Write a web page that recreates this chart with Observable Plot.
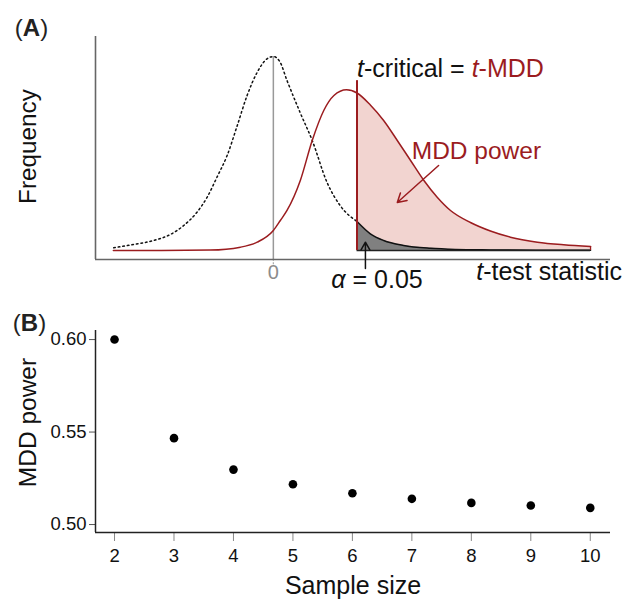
<!DOCTYPE html>
<html>
<head>
<meta charset="utf-8">
<script src="https://cdn.jsdelivr.net/npm/d3@7"></script>
<script src="https://cdn.jsdelivr.net/npm/@observablehq/plot@0.6"></script>
<style>
  html, body { margin: 0; padding: 0; background: #fff; }
  #wrap { position: relative; width: 623px; height: 600px; }
  #wrap > svg { position: absolute; left: 0; }
</style>
</head>
<body>
<div id="wrap"></div>
<script>
// ---------- Panel A data (arbitrary t / density units) ----------
const centralX = [-4.56, -3.99, -3.42, -2.94, -2.56, -2.18, -1.89, -1.61, -1.32, -1.03, -0.75, -0.46, -0.18, 0, 0.18, 0.39, 0.77, 1.11, 1.54, 1.92, 2.39];
const centralY = [0.0056, 0.0124, 0.0207, 0.0332, 0.0518, 0.0794, 0.1105, 0.1519, 0.1969, 0.2591, 0.3212, 0.3695, 0.3973, 0.402, 0.392, 0.3523, 0.285, 0.228, 0.140, 0.092, 0.060];
const tailX = [2.39, 2.77, 3.15, 3.72, 4.49, 5.2, 6.2, 7.5, 9.06];
const tailY = [0.060, 0.0346, 0.0207, 0.0104, 0.0045, 0.0022, 0.0012, 0.0006, 0.0003];
const noncentralX = [-4.57, -3.2, -1.8, -0.94, -0.46, 0, 0.2, 0.39, 0.77, 1.11, 1.44, 1.73, 2.09, 2.39, 2.77, 3.15, 3.54, 3.92, 4.30, 4.68, 5.06, 5.63, 6.2, 6.77, 7.54, 8.29, 9.06];
const noncentralY = [0, 0, 0.0008, 0.0068, 0.0172, 0.0415, 0.0622, 0.0829, 0.1451, 0.228, 0.2902, 0.3212, 0.3331, 0.3264, 0.3016, 0.2694, 0.228, 0.1865, 0.1451, 0.1105, 0.0829, 0.058, 0.0404, 0.0276, 0.0172, 0.0118, 0.0083];
const tCritical = 2.39;
const criticalTop = 0.352;
const zeroLineTop = 0.402;
const xDomainA = [-5.08, 9.63];
const yDomainA = [-0.0187, 0.4435];
const annotationTexts = [
  {key: "crit", text: "t-critical = t-MDD", x: 2.39, y: 0.377, anchor: "start"},
  {key: "power", text: "MDD power", x: 5.80, y: 0.205, anchor: "middle"},
  {key: "alpha", text: "α = 0.05", x: 2.96, y: -0.062, anchor: "middle"},
  {key: "stat", text: "t-test statistic", x: 9.96, y: -0.0456, anchor: "end"}
];
const annotationArrows = [
  {key: "power", x1: 4.72, y1: 0.176, x2: 3.54, y2: 0.0995},
  {key: "alpha", x1: 2.63, y1: -0.0373, x2: 2.63, y2: 0.0172}
];

// ---------- Panel B data ----------
const sampleSize = [2, 3, 4, 5, 6, 7, 8, 9, 10];
const mddPower = [0.600, 0.5467, 0.5297, 0.5218, 0.5169, 0.5139, 0.5117, 0.5103, 0.5090];
const powerTicks = [0.50, 0.55, 0.60];
const xDomainB = [1.68, 10.34];
const yDomainB = [0.4957, 0.6049];

// ---------- styles ----------
const RED = "#9b1c1f";
const PINK = "#f2d4d0";
const FONT = "'Liberation Sans', Arial, Helvetica, sans-serif";

const zip = (xs, ys) => xs.map((x, i) => ({x, y: ys[i]}));
const central = zip(centralX, centralY);
const tail = zip(tailX, tailY);
const noncentral = zip(noncentralX, noncentralY);
const powerRegion = noncentral.filter(d => d.x >= tCritical);
const lastNC = noncentral[noncentral.length - 1];

const txt = key => annotationTexts.filter(d => d.key === key);

const panelA = Plot.plot({
  width: 623, height: 300,
  marginLeft: 95, marginRight: 13, marginTop: 36, marginBottom: 41,
  style: {fontFamily: FONT, background: "transparent", color: "#111", overflow: "visible"},
  x: {domain: xDomainA, axis: null},
  y: {domain: yDomainA, axis: null},
  marks: [
    Plot.areaY(powerRegion, {x: "x", y: "y", fill: PINK, curve: "monotone-x"}),
    Plot.areaY(tail, {x: "x", y: "y", fill: "#808080", curve: "monotone-x"}),
    Plot.line(tail, {x: "x", y: "y", stroke: "#111", strokeWidth: 1.5, curve: "monotone-x"}),
    Plot.ruleY([0], {x1: tCritical, x2: lastNC.x, stroke: "#222", strokeWidth: 1.6}),
    Plot.ruleX([lastNC], {x: "x", y1: 0, y2: "y", stroke: RED, strokeWidth: 1.3}),
    Plot.line(central, {x: "x", y: "y", stroke: "#111", strokeWidth: 1.5, strokeDasharray: "1.6,3", curve: "monotone-x"}),
    Plot.ruleX([0], {y1: yDomainA[0], y2: zeroLineTop, stroke: "#999", strokeWidth: 1.5}),
    Plot.ruleX([0], {y1: -0.0295, y2: yDomainA[0], stroke: "#aaa", strokeWidth: 1.2, strokeDasharray: "2,1.5"}),
    Plot.line(noncentral, {x: "x", y: "y", stroke: RED, strokeWidth: 1.5, curve: "monotone-x"}),
    Plot.ruleX([tCritical], {y1: 0, y2: criticalTop, stroke: RED, strokeWidth: 2}),
    Plot.ruleX([xDomainA[0]], {stroke: "#666", strokeWidth: 1.6}),
    Plot.ruleY([yDomainA[0]], {stroke: "#666", strokeWidth: 1.6}),
    Plot.arrow(annotationArrows.filter(d => d.key === "power"), {x1: "x1", y1: "y1", x2: "x2", y2: "y2", stroke: RED, strokeWidth: 1.5, headLength: 10}),
    Plot.arrow(annotationArrows.filter(d => d.key === "alpha"), {x1: "x1", y1: "y1", x2: "x2", y2: "y2", stroke: "#111", strokeWidth: 1.5, headLength: 9}),
    Plot.text(txt("crit"), {x: "x", y: "y", text: "text", textAnchor: "start", fontSize: 25, fill: "#111"}),
    Plot.text(txt("power"), {x: "x", y: "y", text: "text", textAnchor: "middle", fontSize: 24.5, fill: RED}),
    Plot.text(txt("alpha"), {x: "x", y: "y", text: "text", textAnchor: "middle", fontSize: 25, fill: "#111"}),
    Plot.text(txt("stat"), {x: "x", y: "y", text: "text", textAnchor: "end", fontSize: 25, fill: "#111"}),
    Plot.text([0], {x: d => d, y: yDomainA[0], dy: 13.5, text: d => String(d), fontSize: 20, fill: "#8c8c8c"}),
    Plot.text(["Frequency"], {frameAnchor: "left", dx: -67, dy: -1.5, rotate: -90, textAnchor: "middle", lineAnchor: "middle", fontSize: 24.3, fill: "#111"}),
    Plot.text(["(A)"], {frameAnchor: "top-left", dx: -64, dy: -8, textAnchor: "middle", lineAnchor: "middle", fontSize: 24, fill: "#222"})
  ]
});

const panelB = Plot.plot({
  width: 623, height: 300,
  marginLeft: 95, marginRight: 13, marginTop: 30, marginBottom: 68,
  style: {fontFamily: FONT, background: "transparent", color: "#111", overflow: "visible"},
  x: {domain: xDomainB},
  y: {domain: yDomainB},
  marks: [
    Plot.axisY({ticks: powerTicks, tickFormat: d3.format(".2f"), tickSize: 6, tickPadding: 3, fontSize: 18.5, label: null, stroke: "#555"}),
    Plot.axisX({ticks: sampleSize, tickFormat: d => String(d), tickSize: 9, tickPadding: 7, fontSize: 18.5, label: null, stroke: "#888"}),
    Plot.ruleX([xDomainB[0]], {stroke: "#222", strokeWidth: 1.5}),
    Plot.ruleY([yDomainB[0]], {stroke: "#222", strokeWidth: 1.5}),
    Plot.dot(zip(sampleSize, mddPower), {x: "x", y: "y", r: 4.3, fill: "#000", stroke: null}),
    Plot.text(["MDD power"], {frameAnchor: "left", dx: -67, dy: -9, rotate: -90, textAnchor: "middle", lineAnchor: "middle", fontSize: 24.5, fill: "#111"}),
    Plot.text(["Sample size"], {frameAnchor: "bottom", dy: 53.5, lineAnchor: "middle", textAnchor: "middle", fontSize: 25, fill: "#111"}),
    Plot.text(["(B)"], {frameAnchor: "top-left", dx: -66, dy: -7, textAnchor: "middle", lineAnchor: "middle", fontSize: 24, fill: "#222"})
  ]
});

function richText(svg, plain, segments) {
  d3.select(svg).selectAll("text").filter(function () { return this.textContent === plain; }).each(function () {
    const t = d3.select(this);
    t.text(null);
    for (const s of segments) {
      const ts = t.append("tspan").text(s.text);
      if (s.italic) ts.attr("font-style", "italic");
      if (s.bold) ts.attr("font-weight", "bold");
      if (s.fill) ts.attr("fill", s.fill);
    }
  });
}
richText(panelA, "t-critical = t-MDD", [{text: "t", italic: true}, {text: "-critical = "}, {text: "t", italic: true, fill: RED}, {text: "-MDD", fill: RED}]);
richText(panelA, "α = 0.05", [{text: "α", italic: true}, {text: " = 0.05"}]);
richText(panelA, "t-test statistic", [{text: "t", italic: true}, {text: "-test statistic"}]);
richText(panelA, "(A)", [{text: "("}, {text: "A", bold: true}, {text: ")"}]);
richText(panelB, "(B)", [{text: "("}, {text: "B", bold: true}, {text: ")"}]);

panelA.style.top = "0px";
panelB.style.top = "300px";
document.getElementById("wrap").append(panelA, panelB);
</script>
</body>
</html>
